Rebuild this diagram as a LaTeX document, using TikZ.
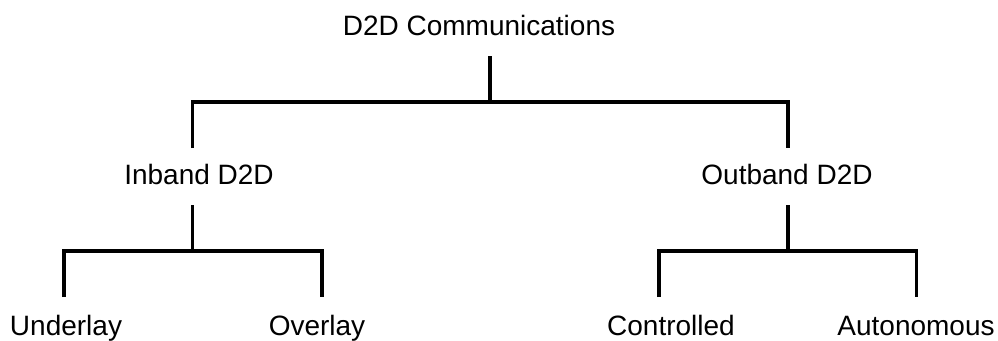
\documentclass[tikz,border=0pt]{standalone}
\usepackage{fontspec}
\setmainfont{Liberation Sans}
\begin{document}
\begin{tikzpicture}[x=1pt,y=-1pt,
  label/.style={anchor=base,inner sep=0pt,font=\fontsize{28}{33}\selectfont},
  branch/.style={line width=3.5pt,line join=miter,line cap=butt}]
\useasboundingbox (0,0) rectangle (998,340);

% category labels
\node[label] (root)       at (479,35)  {D2D Communications};
\node[label] (inband)     at (199,184) {Inband D2D};
\node[label] (outband)    at (787,184) {Outband D2D};
\node[label] (underlay)   at (66,335)  {Underlay};
\node[label] (overlay)    at (317,335) {Overlay};
\node[label] (controlled) at (671,335) {Controlled};
\node[label] (autonomous) at (916,335) {Autonomous};

% stem and fork points of the tree
\coordinate (rootstem)    at (490,56);
\coordinate (rootfork)    at (490,102);
\coordinate (inbandin)    at (192.5,148);
\coordinate (outbandin)   at (788,148);
\coordinate (inbandstem)  at (192.5,205);
\coordinate (inbandfork)  at (192.5,251);
\coordinate (outbandstem) at (788,205);
\coordinate (outbandfork) at (788,251);
\coordinate (underlayin)  at (64,297);
\coordinate (overlayin)   at (322,297);
\coordinate (controlledin) at (659,297);
\coordinate (autonomousin) at (916.5,297);

% top level
\draw[branch] (rootstem) -- (rootfork);
\draw[branch] (inbandin) -- (inbandin |- rootfork) -- (outbandin |- rootfork) -- (outbandin);

% inband branch
\draw[branch] (inbandstem) -- (inbandfork);
\draw[branch] (underlayin) -- (underlayin |- inbandfork) -- (overlayin |- inbandfork) -- (overlayin);

% outband branch
\draw[branch] (outbandstem) -- (outbandfork);
\draw[branch] (controlledin) -- (controlledin |- outbandfork) -- (autonomousin |- outbandfork) -- (autonomousin);
\end{tikzpicture}
\end{document}
